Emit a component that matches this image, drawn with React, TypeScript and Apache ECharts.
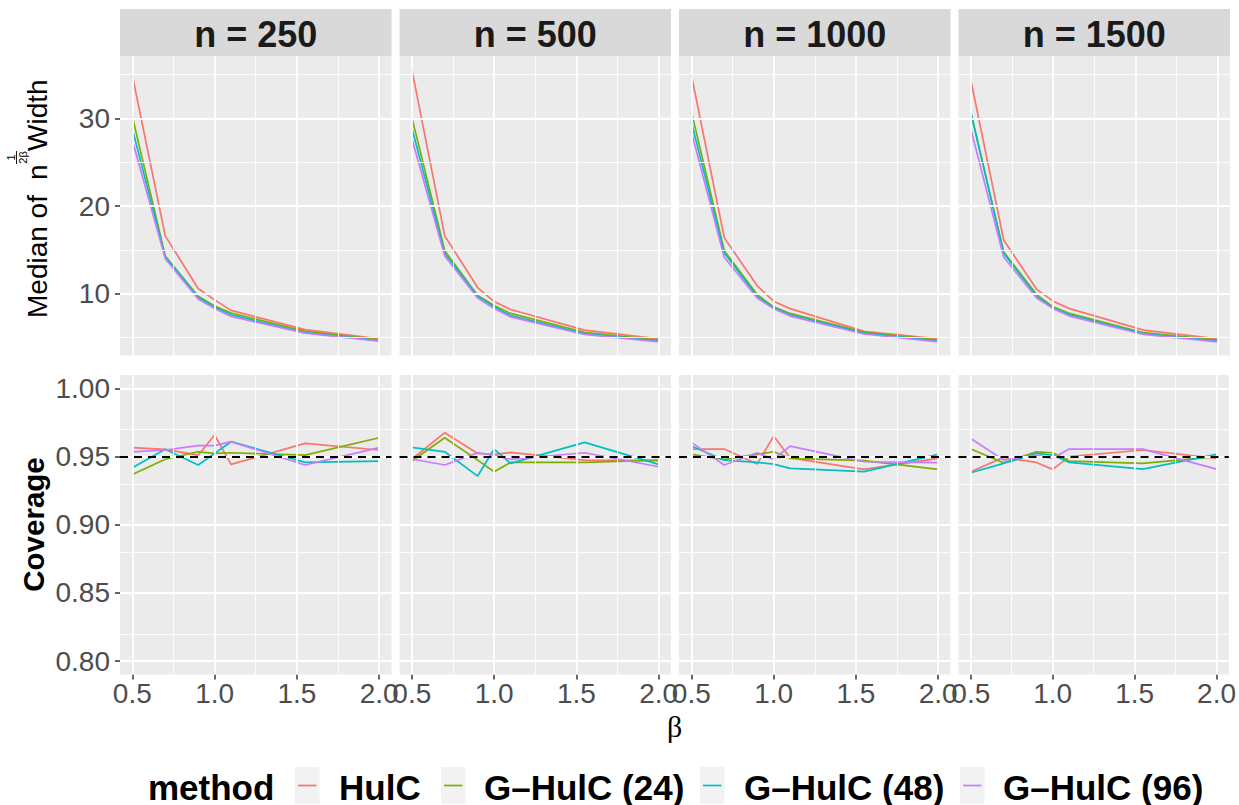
import React, { useEffect, useRef } from "react";
import * as echarts from "echarts";

const betas = [0.5, 0.7, 0.9, 1.0, 1.1, 1.55, 2.0];
const methods = ["HulC", "G–HulC (24)", "G–HulC (48)", "G–HulC (96)"];
const methodColors = ["#F8766D", "#7CAE00", "#00BFC4", "#C77CFF"];
const panelLabels = ["n = 250", "n = 500", "n = 1000", "n = 1500"];

const xTicks = [0.5, 1.0, 1.5, 2.0];
const xMinor = [0.75, 1.25, 1.75];
const widthTicks = [10, 20, 30];
const widthMinor = [5, 15, 25, 35];
const coverageTicks = [0.8, 0.85, 0.9, 0.95, 1.0];
const coverageMinor = [0.825, 0.875, 0.925, 0.975];
const nominalCoverage = 0.95;

// Median of scaled width: rows = methods (HulC, G24, G48, G96), cols = betas
const width250 = [
  [34.9, 16.6, 10.6, 9.3, 8.1, 5.9, 4.85],
  [30.2, 14.3, 9.7, 8.6, 7.8, 5.7, 4.75],
  [28.8, 14.2, 9.6, 8.45, 7.6, 5.55, 4.65],
  [27.5, 14.0, 9.4, 8.3, 7.4, 5.5, 4.6],
];
const width500 = [
  [35.6, 16.6, 10.7, 9.1, 8.2, 5.85, 4.85],
  [30.1, 14.9, 9.8, 8.65, 7.75, 5.6, 4.7],
  [28.9, 14.6, 9.7, 8.5, 7.5, 5.45, 4.6],
  [27.7, 14.3, 9.5, 8.3, 7.35, 5.35, 4.5],
];
const width1000 = [
  [35.0, 16.4, 10.9, 9.15, 8.3, 5.7, 4.85],
  [30.8, 14.9, 9.9, 8.5, 7.75, 5.6, 4.7],
  [29.6, 14.65, 9.7, 8.4, 7.6, 5.5, 4.6],
  [28.5, 14.15, 9.5, 8.3, 7.45, 5.4, 4.5],
];
const width1500 = [
  [34.35, 16.1, 10.5, 9.15, 8.3, 5.85, 4.85],
  [30.6, 14.75, 9.9, 8.5, 7.75, 5.55, 4.7],
  [30.7, 14.6, 9.7, 8.4, 7.6, 5.45, 4.6],
  [28.8, 14.15, 9.5, 8.3, 7.45, 5.35, 4.5],
];

const coverage250 = [
  [0.9565, 0.9553, 0.951, 0.9658, 0.9443, 0.9597, 0.9548],
  [0.9369, 0.948, 0.9535, 0.9523, 0.9528, 0.951, 0.9638],
  [0.9418, 0.9553, 0.9438, 0.9523, 0.9609, 0.9457, 0.9467],
  [0.9535, 0.9548, 0.958, 0.958, 0.9609, 0.9438, 0.9565],
];
const coverage500 = [
  [0.948, 0.9675, 0.9523, 0.9516, 0.953, 0.9474, 0.947],
  [0.9467, 0.9638, 0.9474, 0.9389, 0.9457, 0.9457, 0.9474],
  [0.9567, 0.9535, 0.9357, 0.9555, 0.945, 0.9604, 0.9443],
  [0.9482, 0.9438, 0.9528, 0.951, 0.948, 0.9528, 0.9425],
];
const coverage1000 = [
  [0.9555, 0.9555, 0.9445, 0.965, 0.9491, 0.9406, 0.9487],
  [0.9516, 0.948, 0.9516, 0.9535, 0.9487, 0.947, 0.9406],
  [0.9577, 0.9474, 0.9457, 0.9445, 0.9413, 0.9389, 0.9516],
  [0.9604, 0.9438, 0.9528, 0.948, 0.9577, 0.9462, 0.9455],
];
const coverage1500 = [
  [0.9389, 0.9494, 0.9457, 0.9406, 0.9499, 0.9548, 0.9487],
  [0.9555, 0.9455, 0.9535, 0.9528, 0.9467, 0.945, 0.9499],
  [0.9381, 0.945, 0.9523, 0.9511, 0.9457, 0.9408, 0.9516],
  [0.9633, 0.9474, 0.9511, 0.9487, 0.9555, 0.9555, 0.9408],
];

const widthPanels = [width250, width500, width1000, width1500];
const coveragePanels = [coverage250, coverage500, coverage1000, coverage1500];

const FONT = "Liberation Sans";

function buildOption() {
  const colLeft = [120, 399.5, 679, 958.5];
  const colW = 271.5;
  const rowTop = [56, 375];
  const rowH = 299.5;
  const xRange = [0.425, 2.075];
  const yRanges = [
    [2.95, 37.12],
    [0.7902, 1.0098],
  ];

  const grids: any[] = [];
  const xAxes: any[] = [];
  const yAxes: any[] = [];
  const series: any[] = [];

  for (let r = 0; r < 2; r++) {
    for (let c = 0; c < 4; c++) {
      const gi = r * 4 + c;
      grids.push({
        left: colLeft[c],
        top: rowTop[r],
        width: colW,
        height: rowH,
        show: true,
        backgroundColor: "#EBEBEB",
        borderWidth: 0,
      });
      xAxes.push({
        gridIndex: gi,
        type: "value",
        min: xRange[0],
        max: xRange[1],
        axisLine: { show: false },
        splitLine: { show: false },
        axisTick: {
          show: r === 1,
          length: 5,
          lineStyle: { color: "#333333", width: 1.5 },
          customValues: xTicks,
        },
        axisLabel: {
          show: r === 1,
          customValues: xTicks,
          formatter: (v: number) => v.toFixed(1),
          color: "#4D4D4D",
          fontSize: 28,
          fontFamily: FONT,
          margin: 5,
        },
      });
      const yt = r === 0 ? widthTicks : coverageTicks;
      yAxes.push({
        gridIndex: gi,
        type: "value",
        min: yRanges[r][0],
        max: yRanges[r][1],
        axisLine: { show: false },
        splitLine: { show: false },
        axisTick: {
          show: c === 0,
          length: 5,
          lineStyle: { color: "#333333", width: 1.5 },
          customValues: yt,
        },
        axisLabel: {
          show: c === 0,
          customValues: yt,
          formatter: (v: number) => (r === 0 ? String(Math.round(v)) : v.toFixed(2)),
          color: "#4D4D4D",
          fontSize: 28,
          fontFamily: FONT,
          margin: 10,
        },
      });

      const yMaj = r === 0 ? widthTicks : coverageTicks;
      const yMin = r === 0 ? widthMinor : coverageMinor;
      const major = { color: "#FFFFFF", width: 1.8, type: "solid" };
      const minor = { color: "#FFFFFF", width: 0.9, type: "solid" };
      const glData: any[] = [];
      xMinor.forEach((v) => glData.push({ xAxis: v, lineStyle: minor }));
      yMin.forEach((v) => glData.push({ yAxis: v, lineStyle: minor }));
      xTicks.forEach((v) => glData.push({ xAxis: v, lineStyle: major }));
      yMaj.forEach((v) => glData.push({ yAxis: v, lineStyle: major }));
      series.push({
        type: "line",
        name: "grid-" + gi,
        xAxisIndex: gi,
        yAxisIndex: gi,
        data: [],
        z: 1,
        silent: true,
        markLine: {
          silent: true,
          symbol: ["none", "none"],
          label: { show: false },
          emphasis: { disabled: true },
          data: glData,
        },
      });

      const panel = r === 0 ? widthPanels[c] : coveragePanels[c];
      methods.forEach((m, mi) => {
        series.push({
          type: "line",
          name: m,
          xAxisIndex: gi,
          yAxisIndex: gi,
          data: betas.map((b, i) => [b, panel[mi][i]]),
          showSymbol: false,
          symbol: "none",
          lineStyle: { color: methodColors[mi], width: 1.7 },
          itemStyle: { color: methodColors[mi] },
          z: 3,
          silent: true,
        });
      });

      if (r === 1) {
        series.push({
          type: "line",
          name: "nominal-" + gi,
          xAxisIndex: gi,
          yAxisIndex: gi,
          data: [],
          z: 4,
          silent: true,
          markLine: {
            silent: true,
            symbol: ["none", "none"],
            label: { show: false },
            emphasis: { disabled: true },
            data: [
              {
                yAxis: nominalCoverage,
                lineStyle: { color: "#000000", width: 2, type: [8, 6] },
              },
            ],
          },
        });
      }
    }
  }

  const graphics: any[] = [];
  // strips
  panelLabels.forEach((lab, c) => {
    graphics.push({
      type: "rect",
      shape: { x: colLeft[c], y: 9, width: colW, height: 47 },
      style: { fill: "#D9D9D9" },
    });
    graphics.push({
      type: "text",
      x: colLeft[c] + colW / 2,
      y: 34,
      style: {
        text: lab,
        font: `bold 36px ${FONT}`,
        fill: "#1A1A1A",
        textAlign: "center",
        align: "center",
        textVerticalAlign: "middle",
        verticalAlign: "middle",
      },
    });
  });

  // y title top (rotated)
  const mkText = (text: string, x: number, y: number, font: string, align = "left") => ({
    type: "text",
    x,
    y,
    style: {
      text,
      font,
      fill: "#000000",
      textAlign: align,
      align,
      textVerticalAlign: "middle",
      verticalAlign: "middle",
    },
  });
  graphics.push({
    type: "group",
    x: 37,
    y: 200,
    rotation: Math.PI / 2,
    children: [
      mkText("Median of", -118, 0, `28px ${FONT}`),
      mkText("n", 20, 0, `28px ${FONT}`),
      mkText("1", 42.5, -26, `11px ${FONT}`, "center"),
      {
        type: "line",
        shape: { x1: 36, y1: -20.5, x2: 49, y2: -20.5 },
        style: { stroke: "#000000", lineWidth: 0.9 },
      },
      mkText("2β", 42.5, -14.5, `11px ${FONT}`, "center"),
      mkText("Width", 49, 0, `28px ${FONT}`),
    ],
  });
  graphics.push({
    type: "text",
    x: 33,
    y: 524.5,
    rotation: Math.PI / 2,
    style: {
      text: "Coverage",
      font: `bold 29.5px ${FONT}`,
      fill: "#000000",
      textAlign: "center",
      align: "center",
      textVerticalAlign: "middle",
      verticalAlign: "middle",
    },
  });
  // x title
  graphics.push({
    type: "text",
    x: 674.5,
    y: 726,
    style: {
      text: "β",
      font: `30px Liberation Serif`,
      fill: "#000000",
      textAlign: "center",
      align: "center",
      textVerticalAlign: "middle",
      verticalAlign: "middle",
    },
  });

  // legend
  const legendY = 787;
  graphics.push({
    type: "text",
    x: 148,
    y: legendY,
    style: {
      text: "method",
      font: `bold 35px ${FONT}`,
      fill: "#000000",
      textAlign: "left",
      align: "left",
      textVerticalAlign: "middle",
      verticalAlign: "middle",
    },
  });
  const keyX = [295, 441, 700, 960];
  const labX = [339, 484, 744, 1003];
  methods.forEach((m, mi) => {
    graphics.push({
      type: "rect",
      shape: { x: keyX[mi], y: 767, width: 24.5, height: 37 },
      style: { fill: "#F2F2F2" },
    });
    graphics.push({
      type: "line",
      shape: { x1: keyX[mi] + 3, y1: 785.5, x2: keyX[mi] + 21.5, y2: 785.5 },
      style: { stroke: methodColors[mi], lineWidth: 1.7 },
    });
    graphics.push({
      type: "text",
      x: labX[mi],
      y: legendY,
      style: {
        text: m,
        font: `bold 35px ${FONT}`,
        fill: "#000000",
        textAlign: "left",
        align: "left",
        textVerticalAlign: "middle",
        verticalAlign: "middle",
      },
    });
  });

  return {
    animation: false,
    backgroundColor: "#FFFFFF",
    textStyle: { fontFamily: FONT },
    grid: grids,
    xAxis: xAxes,
    yAxis: yAxes,
    series,
    graphic: graphics,
  };
}

export default function App() {
  const ref = useRef<HTMLDivElement>(null);
  useEffect(() => {
    if (!ref.current) return;
    const chart = echarts.init(ref.current, undefined, { renderer: "svg" });
    chart.setOption(buildOption() as any);
    return () => chart.dispose();
  }, []);
  return (
    <div
      ref={ref}
      style={{ position: "absolute", left: 0, top: 0, width: 1239, height: 805, background: "#fff" }}
    />
  );
}
